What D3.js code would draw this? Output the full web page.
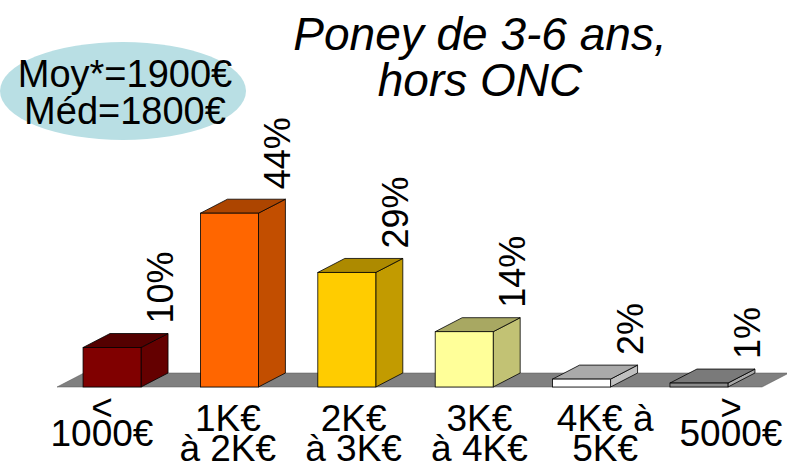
<!DOCTYPE html>
<html>
<head>
<meta charset="utf-8">
<script src="https://cdn.jsdelivr.net/npm/d3@7"></script>
<style>
  body { margin: 0; background: #fff; }
  text { font-family: Arial, "Liberation Sans", sans-serif; fill: #000; }
</style>
</head>
<body>
<div id="chart"></div>
<script>
// data
const categories = ["<1000", "1K-2K", "2K-3K", "3K-4K", "4K-5K", ">5000"];
const catLines = [["<", "1000€"], ["1K€", "à 2K€"], ["2K€", "à 3K€"], ["3K€", "à 4K€"], ["4K€ à", "5K€"], [">", "5000€"]];
const shares = [10, 44, 29, 14, 2, 1];
const titleLines = ["Poney de 3-6 ans,", "hors ONC"];
const statLines = ["Moy*=1900€", "Méd=1800€"];

// face colours: front, top, side
const palette = [
  ["#800000", "#540000", "#640000"],
  ["#ff6600", "#ad4500", "#c24e00"],
  ["#ffcc00", "#ad8a00", "#c29b00"],
  ["#ffff99", "#a8a862", "#c2c274"],
  ["#ffffff", "#aaaaaa", "#c0c0c0"],
  ["#8c8c8c", "#7a7a7a", "#a8a8a8"]
];

const W = 787, H = 467;
const depth = {dx: 27, dy: -14};
const floorShift = 4;

const svg = d3.select("#chart").append("svg")
    .attr("width", W)
    .attr("height", H);

const x = d3.scaleBand()
    .domain(categories)
    .range([53, 758])
    .paddingInner(0.506)
    .paddingOuter(0.256);

const y = d3.scaleLinear()
    .domain([0, 50])
    .range([387, 189.5]);

const xLabel = d3.scalePoint()
    .domain(categories)
    .range([102, 731]);

// floor
const fx0 = x.range()[0] + floorShift, fx1 = x.range()[1] + floorShift, fy = y(0);
svg.append("polygon")
    .attr("points", [[fx0, fy], [fx1, fy], [fx1 + depth.dx, fy + depth.dy], [fx0 + depth.dx, fy + depth.dy]].join(" "))
    .attr("fill", "#808080")
    .attr("stroke", "#555")
    .attr("stroke-width", 0.5);

// bars
const bars = svg.append("g").selectAll("g")
    .data(shares)
    .join("g");

bars.each(function(d, i) {
    const g = d3.select(this);
    const x0 = x(categories[i]), x1 = x0 + x.bandwidth();
    const yt = y(d), yb = y(0);
    const c = palette[i];
    // side
    g.append("polygon")
        .attr("points", [[x1, yb], [x1 + depth.dx, yb + depth.dy], [x1 + depth.dx, yt + depth.dy], [x1, yt]].join(" "))
        .attr("fill", c[2]).attr("stroke", "#000").attr("stroke-width", 0.8);
    // top
    g.append("polygon")
        .attr("points", [[x0, yt], [x1, yt], [x1 + depth.dx, yt + depth.dy], [x0 + depth.dx, yt + depth.dy]].join(" "))
        .attr("fill", c[1]).attr("stroke", "#000").attr("stroke-width", 0.8);
    // front
    g.append("rect")
        .attr("x", x0).attr("y", yt)
        .attr("width", x.bandwidth()).attr("height", yb - yt)
        .attr("fill", c[0]).attr("stroke", "#000").attr("stroke-width", 0.8);
});

// value labels (rotated)
svg.append("g").selectAll("text")
    .data(shares)
    .join("text")
    .attr("transform", (d, i) => {
        const lx = x(categories[i]) + x.bandwidth() + depth.dx + 5;
        const ly = y(d) + depth.dy - 10;
        return "translate(" + lx + "," + ly + ") rotate(-90)";
    })
    .attr("font-size", 36)
    .text(d => d + "%");

// category labels
const catG = svg.append("g").selectAll("text")
    .data(categories)
    .join("text")
    .attr("text-anchor", "middle")
    .attr("font-size", 37);

catG.each(function(d, i) {
    const lines = catLines[i];
    const symbol = lines[0].length === 1;
    const base = symbol ? [420, 446] : [431, 461];
    d3.select(this).selectAll("tspan")
        .data(lines)
        .join("tspan")
        .attr("x", xLabel(d))
        .attr("y", (l, j) => base[j])
        .text(l => l);
});

// title
svg.append("text")
    .attr("text-anchor", "middle")
    .attr("font-size", 46)
    .attr("font-style", "italic")
    .selectAll("tspan")
    .data(titleLines)
    .join("tspan")
    .attr("x", 480)
    .attr("y", (d, i) => 50 + i * 46)
    .text(d => d);

// mean / median bubble
svg.append("ellipse")
    .attr("cx", 123).attr("cy", 91)
    .attr("rx", 123).attr("ry", 49)
    .attr("fill", "#b9dfe4");

svg.append("text")
    .attr("text-anchor", "middle")
    .attr("font-size", 38)
    .selectAll("tspan")
    .data(statLines)
    .join("tspan")
    .attr("x", 125)
    .attr("y", (d, i) => 87 + i * 37)
    .text(d => d);
</script>
</body>
</html>
